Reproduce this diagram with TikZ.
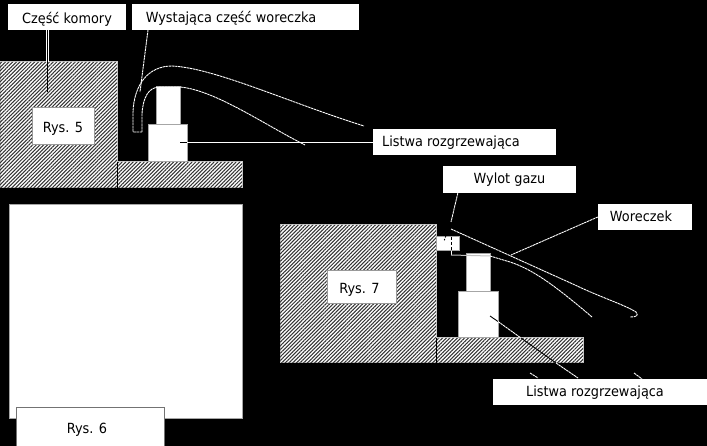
\documentclass[tikz,border=0pt]{standalone}
\usepackage{fontspec}
\setmainfont[FakeStretch=0.92]{DejaVu Sans}
\usetikzlibrary{patterns.meta}
\newcommand{\sunk}[2]{\raisebox{-#1pt}[0pt][0pt]{#2}}
\tikzset{
  x=1pt,y=-1pt,
  label box/.style={fill=white,draw=none,inner sep=0pt,text=black,font=\fontsize{14}{16}\selectfont,anchor=center},
  hatched/.style={draw=white!80!black,line width=1pt,fill=white,postaction={pattern={Lines[angle=45,distance=2.6pt,line width=1.05pt]},pattern color=black!80}},
  plain box/.style={draw=white!65!black,line width=1pt,fill=white},
  wire/.style={draw=white,line width=0.8pt},
  dotted wire/.style={draw=white,line width=0.9pt,dash pattern=on 2.5pt off 0.6pt},
  ink/.style={draw=black,line width=0.9pt}
}
\begin{document}
\begin{tikzpicture}
\useasboundingbox (0,0) rectangle (707,446);
\fill[black] (0,0) rectangle (707,446);
% --- Rys. 5 ---
\path[hatched] (0,62) -- (117,62) -- (117,162) -- (242,162) -- (242,188) -- (0,188) -- cycle;
\draw[ink] (117,162) -- (117,188);
\node[label box,minimum width=62pt,minimum height=37pt,draw=white!60!black,line width=1pt] (rys5) at (63,126.5) {\sunk{6.2}{Rys. 5}};
\draw[plain box] (156,87) rectangle (180,125);
\draw[plain box] (148,125) rectangle (187,162);
\node[label box,minimum width=118pt,minimum height=26pt] (komora) at (67,17) {\sunk{6.3}{Część komory}};
\node[label box,minimum width=227pt,minimum height=26pt] (wystajaca) at (245.5,17) {\hspace*{-29pt}\sunk{5.7}{Wystająca część woreczka}};
\node[label box,minimum width=183pt,minimum height=26pt] (listwaA) at (464.5,142) {\hspace*{-27pt}\sunk{4.7}{Listwa rozgrzewająca}};
\coordinate (komoraEdge) at (47.5,62);
\coordinate (komoraEnd) at (47.5,92);
\draw[draw=white,line width=2.2pt] (47.5,30) -- (komoraEdge);
\draw[ink] (47.5,30) -- (47.5,62) -- (komoraEnd);
\coordinate (bagA1) at (133,132);
\coordinate (bagA2) at (142,132);
\draw[dotted wire] (bagA2) -- (bagA1) -- (133,112) .. controls (134,85) and (148,66) .. (172,66) .. controls (215,68) and (290,103) .. (364,126);
\draw[dotted wire] (bagA2) -- (142,114) .. controls (143,98) and (148,87) .. (160,87) -- (180,87) .. controls (215,90) and (265,125) .. (305,145);
\coordinate (barA) at (180,142);
\coordinate (barAEdge) at (187,142);
\draw[ink] (barA) -- (barAEdge);
\draw[wire] (barAEdge) -- (listwaA.west);
\coordinate (wysEnd) at (140,92);
\draw[dotted wire] (148,30) -- (wysEnd);
% --- Rys. 6 ---
\draw[plain box] (9,205) rectangle (242,418);
\node[label box,minimum width=148pt,minimum height=39pt,draw=white!45!black,line width=1pt] (rys6) at (90,426.5) {\hspace*{-6pt}\sunk{6.5}{Rys. 6}};
% --- Rys. 7 ---
\path[hatched] (280,225) -- (436,225) -- (436,338) -- (583,338) -- (583,363) -- (280,363) -- cycle;
\draw[ink] (436,338) -- (436,363);
\node[label box,minimum width=69pt,minimum height=33pt,draw=white!60!black,line width=1pt] (rys7) at (361.5,287.5) {\hspace*{-4pt}\sunk{6.5}{Rys. 7}};
\draw[plain box] (466,254) rectangle (490,292);
\draw[plain box] (458,292) rectangle (498,338);
\draw[plain box] (436,237) rectangle (459,251);
\node[label box,minimum width=133pt,minimum height=27pt] (wylot) at (509.5,179.5) {\sunk{4.5}{Wylot gazu}};
\node[label box,minimum width=94pt,minimum height=26pt] (woreczek) at (645,217) {\hspace*{-8pt}\sunk{4.7}{Woreczek}};
\node[label box,minimum width=214pt,minimum height=26pt] (listwaB) at (600,391.5) {\hspace*{-10pt}\sunk{5.2}{Listwa rozgrzewająca}};
\coordinate (gas) at (444,241);
\draw[dotted wire] (wylot.south west) ++(15,0) -- (451,222);
\draw[ink,dash pattern=on 1.5pt off 1.5pt] (451,222) -- (gas);
\draw[ink,dash pattern=on 3pt off 2pt] (451,237) -- (451,251);
\coordinate (bagB1) at (451,229);
\coordinate (bagB2) at (451,255);
\draw[dotted wire] (bagB1) -- (575,285) .. controls (600,297) and (625,305) .. (636,312) .. controls (639,316) and (636,317) .. (630,317);
\draw[draw=white,line width=1pt] (bagB2) -- (451,251);
\draw[draw=white!75!black,line width=1pt] (bagB2) -- (490,256);
\draw[dotted wire] (490,256) -- (510,262) .. controls (535,270) and (560,290) .. (592,317);
\coordinate (worEnd) at (511,255);
\draw[dotted wire] (woreczek.west) -- (worEnd);
\coordinate (barB) at (490,316);
\draw[ink] (barB) -- (498,321.5);
\draw[dotted wire] (498,321.5) -- (521,338);
\draw[ink] (521,338) -- (556,363);
\draw[dotted wire] (556,363) -- (578,378);
\draw[dotted wire] (530,373) -- (538,378);
\draw[dotted wire] (634,373) -- (642,379);
\end{tikzpicture}
\end{document}
